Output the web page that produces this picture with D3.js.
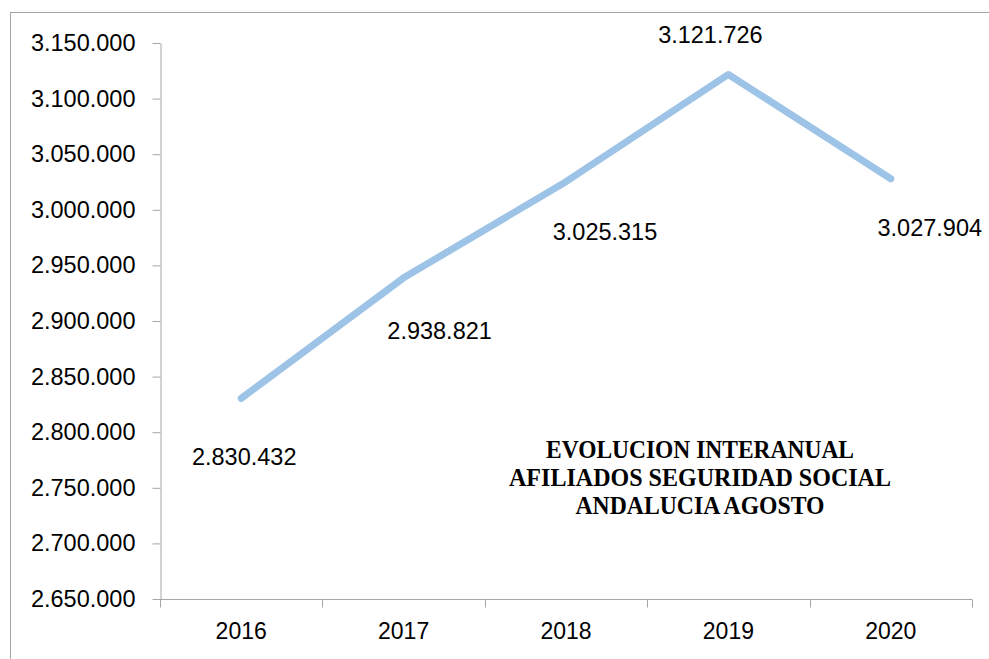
<!DOCTYPE html>
<html>
<head>
<meta charset="utf-8">
<script src="https://cdn.jsdelivr.net/npm/d3@7"></script>
<style>
  html, body { margin: 0; padding: 0; background: #ffffff; }
  svg { display: block; }
</style>
</head>
<body>
<svg id="chart" width="989" height="659"></svg>
<script>
// ---- data ----
const years = ["2016", "2017", "2018", "2019", "2020"];
const afiliados = [2830432, 2938821, 3025315, 3121726, 3027904];
const yTicks = [2650000, 2700000, 2750000, 2800000, 2850000, 2900000, 2950000, 3000000, 3050000, 3100000, 3150000];
const titleLines = ["EVOLUCION INTERANUAL", "AFILIADOS SEGURIDAD SOCIAL", "ANDALUCIA AGOSTO"];

// ---- layout ----
const labelOffsets = [[3, 58], [36, 53], [39, 50], [-18, -40], [39, 49]];
const titleWidths = [308, 382, 249];

(function () {
const svg = d3.select("#chart");
const W = 989, H = 659;
const mLeft = 160, mRight = 972, mTop = 43, mBottom = 599;

const fmt = v => d3.format(",")(v).replace(/,/g, ".");

// outer border
svg.append("rect")
  .attr("x", 10.5).attr("y", 12.5)
  .attr("width", W + 10).attr("height", H + 10)
  .attr("fill", "none").attr("stroke", "#a6a6a6").attr("stroke-width", 1);

const x = d3.scaleBand().domain(years).range([mLeft, mRight]).padding(0);
const y = d3.scaleLinear().domain([2650000, 3150000]).range([mBottom, mTop]);

const axisColor = "#a6a6a6";
const fontFam = "'Liberation Sans', Arial, sans-serif";

// y axis
const yAxis = svg.append("g")
  .attr("transform", `translate(${mLeft + 0.5},0)`)
  .call(d3.axisLeft(y).tickValues(yTicks).tickFormat(fmt).tickSize(8).tickSizeOuter(0).tickPadding(17));
yAxis.select(".domain").attr("stroke", axisColor);
yAxis.selectAll(".tick line").attr("stroke", axisColor);
yAxis.selectAll(".tick text")
  .attr("fill", "#000").style("font-family", fontFam).style("font-size", "23.5px");

// x axis
const xAxis = svg.append("g")
  .attr("transform", `translate(0,${mBottom + 0.5})`)
  .call(d3.axisBottom(x).tickSize(0).tickPadding(23));
xAxis.select(".domain").attr("stroke", axisColor).attr("d", `M${mLeft},0H${mRight}`);
xAxis.selectAll(".tick text")
  .attr("fill", "#000").style("font-family", fontFam).style("font-size", "23px");
// category boundary ticks
const boundaries = years.map(d => x(d)).concat([x(years[years.length - 1]) + x.bandwidth()]);
xAxis.selectAll(".bnd").data(boundaries).enter().append("line")
  .attr("class", "bnd")
  .attr("x1", d => Math.round(d) + 0.5).attr("x2", d => Math.round(d) + 0.5)
  .attr("y1", 0).attr("y2", 8)
  .attr("stroke", axisColor);

// line
const pts = years.map((yr, i) => [x(yr) + x.bandwidth() / 2, y(afiliados[i])]);
svg.append("path")
  .datum(pts)
  .attr("d", d3.line())
  .attr("fill", "none")
  .attr("stroke", "#9dc3e6")
  .attr("stroke-width", 7)
  .attr("stroke-linecap", "round")
  .attr("stroke-linejoin", "round");

// data labels
svg.selectAll(".dlabel").data(afiliados).enter().append("text")
  .attr("class", "dlabel")
  .attr("x", (d, i) => pts[i][0] + labelOffsets[i][0])
  .attr("y", (d, i) => pts[i][1] + labelOffsets[i][1] + 8.5)
  .attr("text-anchor", "middle")
  .style("font-family", fontFam).style("font-size", "23.5px")
  .attr("fill", "#000")
  .text(d => fmt(d));

// title
svg.selectAll(".title").data(titleLines).enter().append("text")
  .attr("class", "title")
  .attr("x", 700)
  .attr("y", (d, i) => 458 + i * 28)
  .attr("text-anchor", "middle")
  .attr("textLength", (d, i) => titleWidths[i])
  .attr("lengthAdjust", "spacingAndGlyphs")
  .style("font-family", "'Liberation Serif', 'DejaVu Serif', serif")
  .style("font-weight", "bold")
  .style("font-size", "25.5px")
  .attr("fill", "#000")
  .text(d => d);
})();
</script>
</body>
</html>
